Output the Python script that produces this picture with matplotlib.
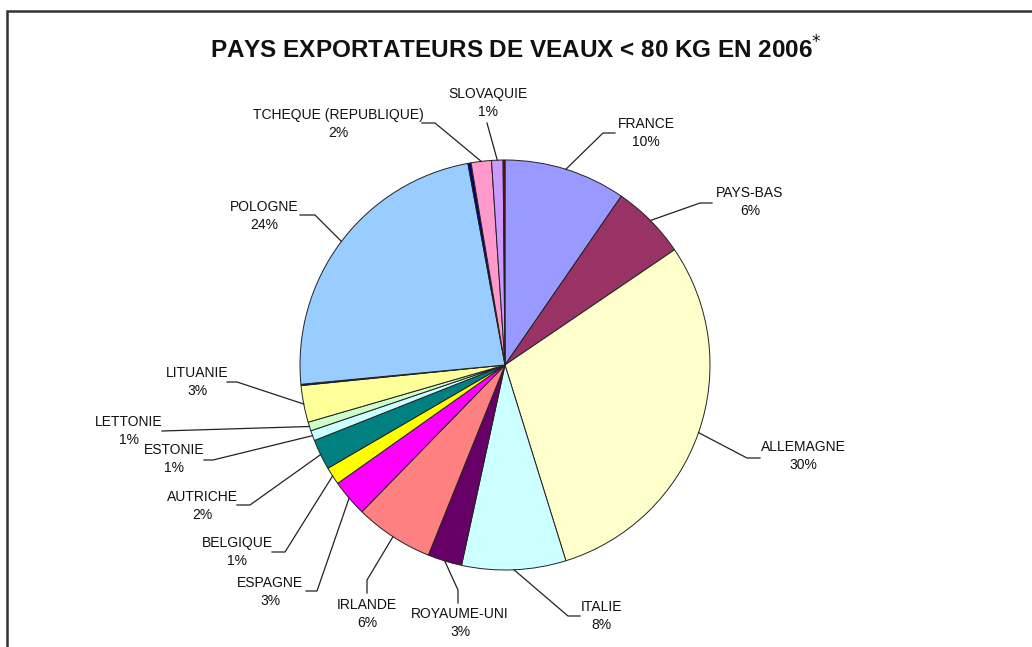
import numpy as np
import matplotlib.pyplot as plt
from matplotlib.patches import Rectangle

plt.rcParams['font.family'] = ['Liberation Sans', 'DejaVu Sans']

# shares of exports (%), clockwise from 12 o'clock
countries = ["FRANCE", "PAYS-BAS", "ALLEMAGNE", "ITALIE", "ROYAUME-UNI", "IRLANDE",
             "ESPAGNE", "BELGIQUE", "AUTRICHE", "ESTONIE", "LETTONIE", "LITUANIE", "",
             "POLOGNE", "", "TCHEQUE (REPUBLIQUE)", "SLOVAQUIE", ""]
shares = [9.6, 5.9, 29.7, 8.2, 2.7, 6.2,
          2.9, 1.4, 2.4, 0.8, 0.7, 2.9, 0.1,
          23.6, 0.25, 1.6, 0.9, 0.15]
colors = ["#9999FF", "#993366", "#FFFFCC", "#CCFFFF", "#660066", "#FF8080",
          "#FF00FF", "#FFFF00", "#008080", "#CCFFFF", "#CCFFCC", "#FFFF99", "#000080",
          "#99CCFF", "#000080", "#FF99CC", "#CC99FF", "#800000"]

# label layout in pixels: text centre, elbow of leader, end of leader
label_pos = {
    "FRANCE": ((646, 133), (603, 133), (615, 133)),
    "PAYS-BAS": ((750, 202), (700, 203), (712, 203)),
    "ALLEMAGNE": ((803, 456), (747, 458), (760, 458)),
    "ITALIE": ((601, 616), (568, 616), (580, 616)),
    "ROYAUME-UNI": ((460, 623), (458, 590), (458, 603)),
    "IRLANDE": ((367, 614), (367, 580), (367, 593)),
    "ESPAGNE": ((270, 592), (317, 591), (306, 591)),
    "BELGIQUE": ((237, 552), (285, 552), (272, 552)),
    "AUTRICHE": ((202, 506), (250, 505), (237, 505)),
    "ESTONIE": ((174, 459), (213, 460), (204, 460)),
    "LETTONIE": ((129, 431), None, (162, 431)),
    "LITUANIE": ((197, 382), (237, 382), (227, 382)),
    "POLOGNE": ((264, 216), (315, 215), (300, 215)),
    "TCHEQUE (REPUBLIQUE)": ((338, 124), (435, 123), (422, 123)),
    "SLOVAQUIE": ((488, 103), None, (487, 123)),
}

W, H = 1032, 647
fig = plt.figure(figsize=(W / 100, H / 100), dpi=100)
ax = fig.add_axes([0, 0, 1, 1])

cx, cy, R = 505, H - 365, 205
wedges, _ = ax.pie(shares, colors=colors, startangle=90, counterclock=False,
                   center=(cx, cy), radius=R,
                   wedgeprops=dict(edgecolor="#222222", linewidth=0.7))
ax.set_xlim(0, W)
ax.set_ylim(0, H)
ax.axis("off")

total = sum(shares)
for w, name, v in zip(wedges, countries, shares):
    if not name:
        continue
    (tx, ty), elbow, end = label_pos[name]
    mid = np.deg2rad((w.theta1 + w.theta2) / 2)
    ex, ey = cx + R * np.cos(mid), cy + R * np.sin(mid)
    xs, ys = [ex], [ey]
    if elbow is not None:
        xs.append(elbow[0]); ys.append(H - elbow[1])
    xs.append(end[0]); ys.append(H - end[1])
    ax.plot(xs, ys, color="#222222", lw=0.9)
    ax.text(tx, H - ty, f"{name}\n{v / total * 100:.0f}%", ha="center", va="center",
            fontsize=10, linespacing=1.35, color="#111111")

ax.text(516, H - 50, "PAYS EXPORTATEURS DE VEAUX < 80 KG EN 2006$^{*}$", ha="center",
        va="center", fontsize=17.5, fontweight="bold", color="#111111")

fig.patches.append(Rectangle((7 / W, -0.1), 1.2, (H - 11) / H + 0.1,
                             transform=fig.transFigure, fill=False,
                             edgecolor="#333333", linewidth=1.8))

fig.savefig("out.png", dpi=100)
